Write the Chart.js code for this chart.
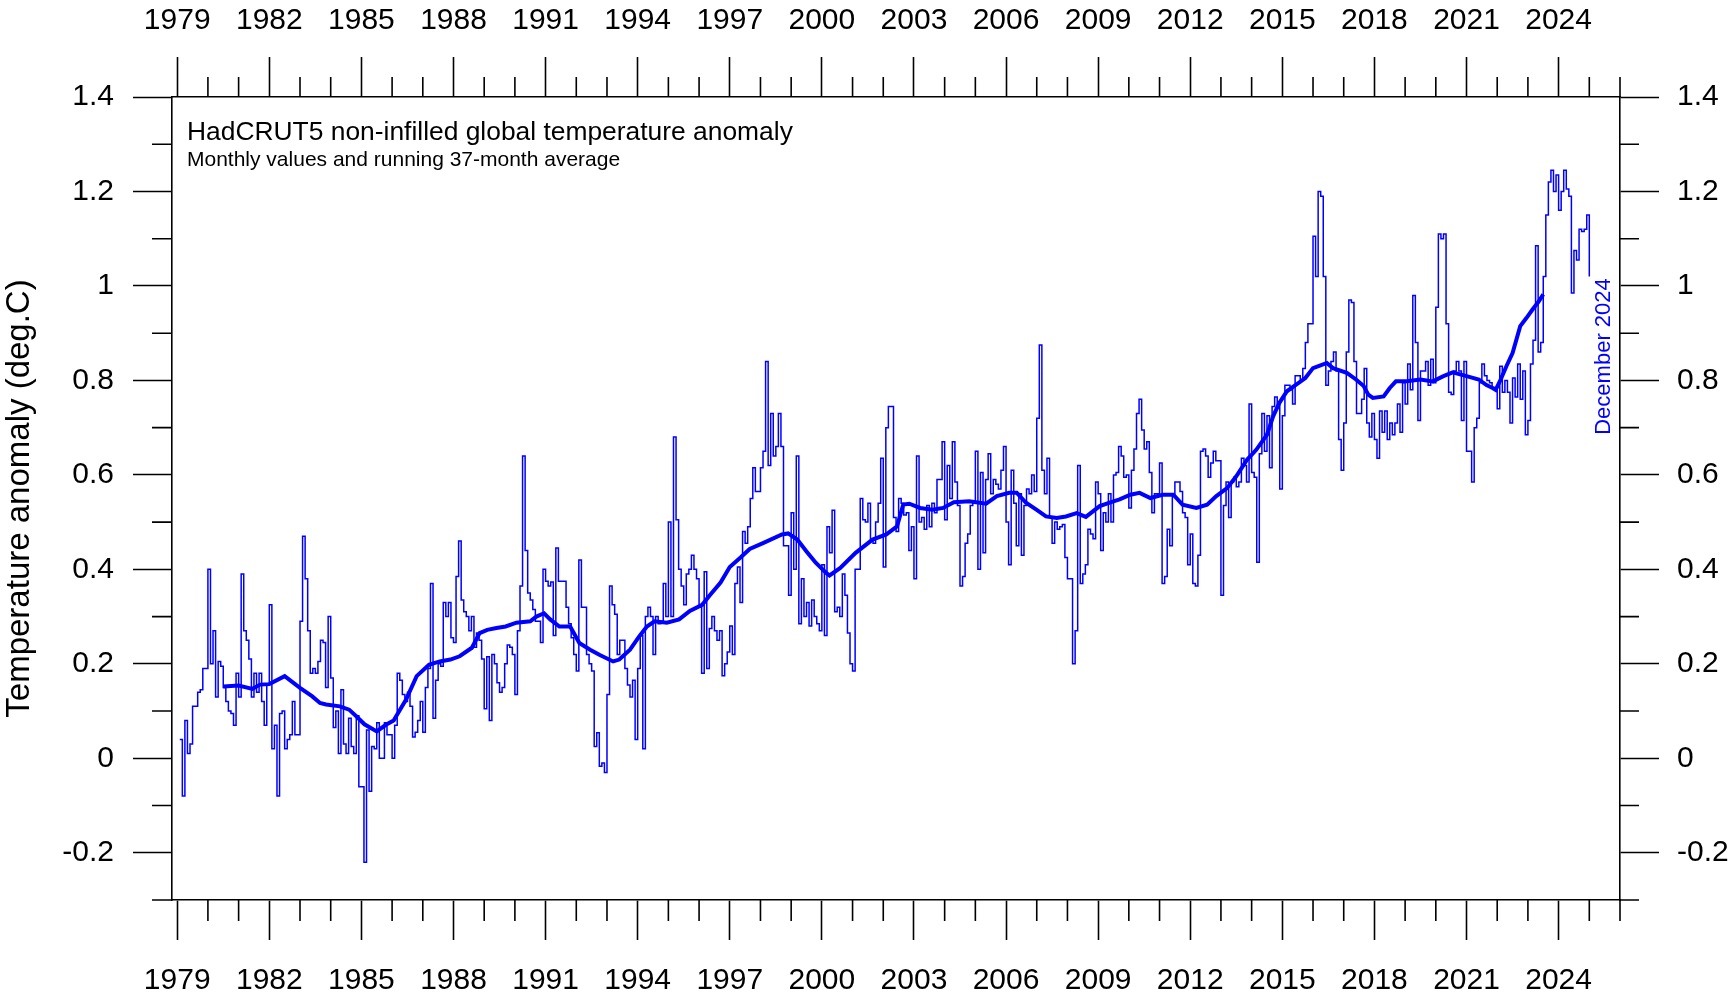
<!DOCTYPE html>
<html>
<head>
<meta charset="utf-8">
<title>HadCRUT5 non-infilled global temperature anomaly</title>
<script src="https://cdn.jsdelivr.net/npm/chart.js@4.4.1/dist/chart.umd.min.js"></script>
<style>
  html, body { margin: 0; padding: 0; background: #fff; }
  #wrap { width: 1732px; height: 998px; }
</style>
</head>
<body>
<div id="wrap"><canvas id="chart" width="1732" height="998"></canvas></div>
<script>
// monthly anomalies (deg.C), Jan..Dec per row
const months1979to1988 = [
  0.04, -0.08, 0.08, 0.01, 0.03, 0.11, 0.11, 0.14, 0.145, 0.19, 0.19, 0.40,
  0.20, 0.27, 0.13, 0.205, 0.195, 0.15, 0.12, 0.10, 0.095, 0.07, 0.18, 0.13,
  0.39, 0.27, 0.25, 0.21, 0.13, 0.18, 0.14, 0.18, 0.12, 0.07, 0.155, 0.325,
  0.02, 0.07, -0.08, 0.095, 0.10, 0.02, 0.04, 0.05, 0.12, 0.05, 0.05, 0.29,
  0.47, 0.38, 0.27, 0.18, 0.19, 0.18, 0.205, 0.25, 0.245, 0.15, 0.30, 0.17,
  0.065, 0.10, 0.01, 0.145, 0.03, 0.01, 0.085, 0.025, 0.01, 0.09, -0.06, -0.06,
  -0.22, 0.06, -0.07, 0.025, 0.02, 0.075, 0.0, 0.0, 0.075, 0.05, 0.05, 0.0,
  0.07, 0.18, 0.165, 0.135, 0.12, 0.14, 0.11, 0.045, 0.055, 0.08, 0.12, 0.055,
  0.15, 0.19, 0.37, 0.085, 0.165, 0.20, 0.195, 0.33, 0.30, 0.33, 0.255, 0.245,
  0.385, 0.46, 0.335, 0.31, 0.30, 0.27, 0.30, 0.235, 0.265, 0.25, 0.21, 0.105
];
const months1989to1998 = [
  0.215, 0.08, 0.22, 0.20, 0.16, 0.14, 0.15, 0.20, 0.24, 0.235, 0.22, 0.135,
  0.27, 0.365, 0.64, 0.44, 0.35, 0.335, 0.315, 0.29, 0.29, 0.245, 0.40, 0.375,
  0.365, 0.373, 0.26, 0.445, 0.375, 0.375, 0.375, 0.32, 0.285, 0.255, 0.22, 0.185,
  0.42, 0.32, 0.32, 0.22, 0.20, 0.185, 0.025, 0.054, -0.017, -0.01, -0.03, 0.135,
  0.365, 0.325, 0.305, 0.22, 0.25, 0.25, 0.19, 0.155, 0.13, 0.165, 0.04, 0.19,
  0.26, 0.02, 0.30, 0.32, 0.30, 0.22, 0.30, 0.285, 0.29, 0.37, 0.30, 0.50,
  0.30, 0.68, 0.505, 0.40, 0.365, 0.325, 0.39, 0.40, 0.43, 0.40, 0.38, 0.32,
  0.18, 0.395, 0.19, 0.275, 0.30, 0.27, 0.25, 0.27, 0.175, 0.20, 0.225, 0.28,
  0.22, 0.37, 0.405, 0.33, 0.48, 0.455, 0.49, 0.55, 0.615, 0.565, 0.565, 0.615,
  0.65, 0.84, 0.62, 0.73, 0.64, 0.66, 0.73, 0.66, 0.45, 0.45, 0.345, 0.52
];
const months1999to2008 = [
  0.40, 0.64, 0.285, 0.38, 0.30, 0.33, 0.28, 0.335, 0.30, 0.285, 0.27, 0.41,
  0.26, 0.49, 0.435, 0.525, 0.31, 0.32, 0.30, 0.39, 0.345, 0.265, 0.20, 0.185,
  0.40, 0.40, 0.55, 0.505, 0.50, 0.54, 0.46, 0.455, 0.50, 0.54, 0.635, 0.405,
  0.70, 0.745, 0.745, 0.51, 0.48, 0.55, 0.54, 0.515, 0.52, 0.44, 0.49, 0.38,
  0.64, 0.50, 0.51, 0.485, 0.535, 0.49, 0.54, 0.52, 0.59, 0.59, 0.67, 0.505,
  0.62, 0.55, 0.67, 0.585, 0.535, 0.365, 0.385, 0.455, 0.475, 0.535, 0.54, 0.65,
  0.40, 0.605, 0.435, 0.59, 0.645, 0.56, 0.59, 0.58, 0.57, 0.61, 0.66, 0.50,
  0.41, 0.61, 0.54, 0.45, 0.56, 0.43, 0.535, 0.57, 0.56, 0.60, 0.565, 0.72,
  0.875, 0.61, 0.56, 0.635, 0.51, 0.455, 0.50, 0.485, 0.49, 0.495, 0.425, 0.38,
  0.38, 0.20, 0.27, 0.62, 0.37, 0.39, 0.41, 0.485, 0.475, 0.465, 0.585, 0.56
];
const months2009to2018 = [
  0.44, 0.52, 0.50, 0.56, 0.50, 0.60, 0.605, 0.66, 0.64, 0.595, 0.60, 0.53,
  0.61, 0.655, 0.73, 0.76, 0.695, 0.655, 0.67, 0.605, 0.52, 0.56, 0.56, 0.625,
  0.37, 0.385, 0.485, 0.45, 0.555, 0.585, 0.585, 0.565, 0.52, 0.51, 0.41, 0.475,
  0.37, 0.365, 0.43, 0.65, 0.655, 0.64, 0.595, 0.625, 0.65, 0.63, 0.63, 0.345,
  0.535, 0.585, 0.51, 0.585, 0.595, 0.575, 0.585, 0.635, 0.62, 0.585, 0.75, 0.605,
  0.595, 0.415, 0.645, 0.73, 0.65, 0.725, 0.615, 0.745, 0.765, 0.75, 0.57, 0.725,
  0.79, 0.79, 0.78, 0.75, 0.81, 0.81, 0.80, 0.825, 0.88, 0.92, 0.92, 1.105,
  1.02, 1.20, 1.19, 1.02, 0.79, 0.82, 0.84, 0.86, 0.82, 0.675, 0.61, 0.71,
  0.86, 0.97, 0.965, 0.84, 0.73, 0.73, 0.76, 0.825, 0.71, 0.68, 0.73, 0.675,
  0.635, 0.735, 0.69, 0.735, 0.675, 0.71, 0.685, 0.71, 0.75, 0.69, 0.795, 0.75
];
const months2019to2024 = [
  0.835, 0.78, 0.98, 0.88, 0.715, 0.82, 0.82, 0.84, 0.79, 0.845, 0.795, 0.955,
  1.11, 1.10, 1.11, 0.92, 0.775, 0.77, 0.82, 0.84, 0.82, 0.715, 0.84, 0.65,
  0.65, 0.585, 0.70, 0.72, 0.795, 0.835, 0.81, 0.80, 0.795, 0.785, 0.785, 0.74,
  0.83, 0.775, 0.80, 0.775, 0.71, 0.805, 0.765, 0.835, 0.76, 0.82, 0.685, 0.715,
  0.835, 0.885, 1.085, 0.86, 0.88, 1.02, 1.15, 1.22, 1.245, 1.20, 1.235, 1.16,
  1.20, 1.245, 1.205, 1.19, 0.985, 1.075, 1.055, 1.12, 1.115, 1.12, 1.15, 1.02
];

// running 37-month average
const avgYears = [
  1980.5, 1981.0, 1981.45, 1981.7, 1982.0, 1982.5, 1983.0, 1983.4, 1983.65, 1983.85,
  1984.3, 1984.6, 1984.85, 1985.1, 1985.5, 1985.8, 1986.05, 1986.45, 1986.8, 1987.2,
  1987.55, 1987.9, 1988.2, 1988.6, 1988.85, 1989.1, 1989.4, 1989.7, 1990.05, 1990.5,
  1990.7, 1990.95, 1991.15, 1991.45, 1991.8, 1992.1, 1992.45, 1992.75, 1993.2, 1993.4,
  1993.75, 1994.05, 1994.3, 1994.55, 1994.95, 1995.35, 1995.7, 1996.1, 1996.35, 1996.7,
  1997.0, 1997.35, 1997.65, 1998.1, 1998.7, 1998.9, 1999.2, 1999.5, 1999.8, 2000.15,
  2000.25, 2000.6, 2001.1, 2001.65, 2002.1, 2002.45, 2002.65, 2002.85, 2003.2, 2003.6,
  2003.95, 2004.3, 2004.8, 2005.35, 2005.7, 2006.1, 2006.35, 2006.65, 2007.0, 2007.3,
  2007.65, 2007.95, 2008.3, 2008.6, 2009.05, 2009.45, 2009.7, 2010.05, 2010.35, 2010.7,
  2011.1, 2011.45, 2011.75, 2012.2, 2012.55, 2012.85, 2013.2, 2013.5, 2013.85, 2014.15,
  2014.5, 2014.7, 2014.9, 2015.15, 2015.45, 2015.75, 2016.0, 2016.2, 2016.45, 2016.65,
  2017.1, 2017.4, 2017.65, 2017.8, 2017.95, 2018.3, 2018.5, 2018.7, 2019.05, 2019.5,
  2019.9, 2020.25, 2020.55, 2021.0, 2021.4, 2021.65, 2021.85, 2021.95, 2022.1, 2022.3,
  2022.5, 2022.75, 2022.95, 2023.15, 2023.35, 2023.5
];
const avgValues = [
  0.152, 0.154, 0.147, 0.156, 0.157, 0.174, 0.149, 0.131, 0.117, 0.114,
  0.11, 0.103, 0.088, 0.072, 0.057, 0.071, 0.08, 0.124, 0.174, 0.198,
  0.205, 0.209, 0.216, 0.234, 0.265, 0.272, 0.276, 0.279, 0.287, 0.29,
  0.30, 0.307, 0.294, 0.279, 0.279, 0.244, 0.23, 0.219, 0.205, 0.209,
  0.23, 0.258, 0.279, 0.29, 0.287, 0.294, 0.312, 0.325, 0.345, 0.372,
  0.405, 0.425, 0.443, 0.456, 0.474, 0.476, 0.463, 0.438, 0.414, 0.392,
  0.387, 0.403, 0.435, 0.463, 0.474, 0.491, 0.537, 0.539, 0.53, 0.526,
  0.53, 0.542, 0.544, 0.539, 0.555, 0.562, 0.562, 0.541, 0.526, 0.512,
  0.509, 0.512, 0.519, 0.511, 0.534, 0.543, 0.548, 0.558, 0.562, 0.551,
  0.558, 0.558, 0.537, 0.53, 0.537, 0.555, 0.572, 0.597, 0.632, 0.653,
  0.685, 0.724, 0.752, 0.777, 0.791, 0.805, 0.826, 0.831, 0.837, 0.826,
  0.816, 0.802, 0.788, 0.77, 0.763, 0.766, 0.784, 0.798, 0.798, 0.802,
  0.798, 0.809, 0.817, 0.809, 0.802, 0.79, 0.784, 0.78, 0.80, 0.83,
  0.858, 0.915, 0.932, 0.95, 0.967, 0.982
];

const labelledYears = [1979, 1982, 1985, 1988, 1991, 1994, 1997, 2000, 2003, 2006, 2009, 2012, 2015, 2018, 2021, 2024];
const yTickValues = [-0.2, 0, 0.2, 0.4, 0.6, 0.8, 1, 1.2, 1.4];
const yMinorValues = [-0.3, -0.1, 0.1, 0.3, 0.5, 0.7, 0.9, 1.1, 1.3];

const FONT = '"Liberation Sans", Arial, Helvetica, sans-serif';
const BLUE = '#0000ff';

const monthly = months1979to1988.concat(months1989to1998, months1999to2008, months2009to2018, months2019to2024);
// each value is plotted at the end of its month, drawn as steps
const monthlyPoints = monthly.map(function (v, i) {
  return { x: 1979 + (i + 1) / 12, y: v };
});
const avgPoints = avgYears.map(function (yr, i) {
  return { x: yr, y: avgValues[i] };
});

const extras = {
  id: 'extras',
  afterDraw: function (chart) {
    const ctx = chart.ctx;
    const a = chart.chartArea;
    const xs = chart.scales.x;
    const ys = chart.scales.y;
    ctx.save();
    // minor ticks
    ctx.strokeStyle = '#000';
    ctx.lineWidth = 1.6;
    ctx.beginPath();
    for (let yr = 1979; yr <= 2026; yr++) {
      if (labelledYears.indexOf(yr) >= 0) continue;
      const px = xs.getPixelForValue(yr);
      ctx.moveTo(px, a.bottom); ctx.lineTo(px, a.bottom + 21);
      ctx.moveTo(px, a.top); ctx.lineTo(px, a.top - 20);
    }
    yMinorValues.forEach(function (v) {
      const py = ys.getPixelForValue(v);
      ctx.moveTo(a.left - 20, py); ctx.lineTo(a.left, py);
      ctx.moveTo(a.right, py); ctx.lineTo(a.right + 19, py);
    });
    ctx.stroke();

    // titles inside the plot
    ctx.fillStyle = '#000';
    ctx.textAlign = 'left';
    ctx.textBaseline = 'alphabetic';
    ctx.font = '26.4px ' + FONT;
    ctx.fillText('HadCRUT5 non-infilled global temperature anomaly', a.left + 15, 139.6);
    ctx.font = '21px ' + FONT;
    ctx.fillText('Monthly values and running 37-month average', a.left + 15, 166);

    // date stamp
    ctx.translate(a.right - 16, 356.5);
    ctx.rotate(-Math.PI / 2);
    ctx.textAlign = 'center';
    ctx.textBaseline = 'middle';
    ctx.fillStyle = BLUE;
    ctx.font = '22px ' + FONT;
    ctx.fillText('December 2024', 0, 0);
    ctx.restore();
  }
};

function xAxis(pos, h, pad) {
  return {
    type: 'linear',
    position: pos,
    display: true,
    min: 1978.83,
    max: 2026,
    afterBuildTicks: function (scale) {
      scale.ticks = labelledYears.map(function (v) { return { value: v }; });
    },
    afterFit: function (scale) { scale.height = h; },
    ticks: {
      callback: function (v) { return String(v); },
      font: { size: 30, family: FONT },
      color: '#000',
      padding: pad,
      maxRotation: 0,
      autoSkip: false
    },
    grid: { drawOnChartArea: false, drawTicks: true, tickLength: 40, tickWidth: 1.6, tickColor: '#000' },
    border: { display: true, color: '#000', width: 1.6 }
  };
}

function yAxis(pos, w, withTitle) {
  return {
    type: 'linear',
    position: pos,
    display: true,
    min: -0.3,
    max: 1.4,
    afterBuildTicks: function (scale) {
      scale.ticks = yTickValues.map(function (v) { return { value: v }; });
    },
    afterFit: function (scale) { scale.width = w; },
    ticks: {
      callback: function (v) { return String(v); },
      font: { size: 30, family: FONT },
      color: '#000',
      padding: pos === 'left' ? 19 : 18,
      autoSkip: false
    },
    title: {
      display: withTitle,
      text: 'Temperature anomaly (deg.C)',
      font: { size: 33, family: FONT },
      color: '#000',
      padding: 0
    },
    grid: { drawOnChartArea: false, drawTicks: true, tickLength: 39, tickWidth: 1.6, tickColor: '#000' },
    border: { display: true, color: '#000', width: 1.6 }
  };
}

Chart.defaults.font.family = FONT;

new Chart(document.getElementById('chart').getContext('2d'), {
  type: 'line',
  data: {
    datasets: [
      {
        label: 'Monthly',
        data: monthlyPoints,
        xAxisID: 'x',
        yAxisID: 'y',
        stepped: 'before',
        borderColor: BLUE,
        borderWidth: 1.5,
        pointRadius: 0,
        fill: false
      },
      {
        label: '37-month average',
        data: avgPoints,
        xAxisID: 'x',
        yAxisID: 'y',
        borderColor: BLUE,
        borderWidth: 4,
        pointRadius: 0,
        tension: 0,
        fill: false
      }
    ]
  },
  options: {
    responsive: false,
    animation: false,
    layout: { padding: 0 },
    plugins: {
      legend: { display: false },
      tooltip: { enabled: false },
      title: { display: false }
    },
    scales: {
      x: xAxis('bottom', 98, 23),
      x2: xAxis('top', 97, 18),
      y: yAxis('left', 172, true),
      y2: yAxis('right', 112, false)
    }
  },
  plugins: [extras]
});
</script>
</body>
</html>
